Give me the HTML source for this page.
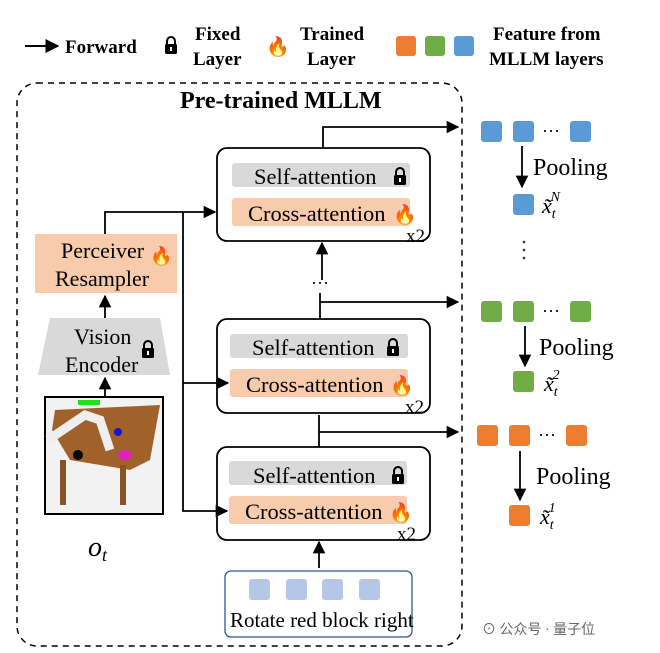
<!DOCTYPE html><html><head><style>body{margin:0;background:#fff}svg{display:block}text{font-family:"Liberation Serif",serif}</style></head><body>
<svg width="660" height="653" viewBox="0 0 660 653" xmlns="http://www.w3.org/2000/svg">
<defs><marker id="a" viewBox="0 0 10 10" refX="9" refY="5" markerWidth="7" markerHeight="7" orient="auto"><path d="M0,0L10,5L0,10z" fill="#000"/></marker>
<g id="lk"><path d="M-4,-2 V-5 A4,4 0 0 1 4,-5 V-2" stroke="#000" stroke-width="2" fill="none"/><rect x="-6" y="-2" width="12" height="10" rx="1.5" fill="#000"/><rect x="-1" y="1" width="2" height="4" fill="#fff"/></g></defs>
<!-- legend -->
<line x1="25" y1="46" x2="58" y2="46" stroke="#000" stroke-width="2" marker-end="url(#a)"/>
<text x="65" y="53" font-size="19" font-weight="bold">Forward</text>
<use href="#lk" x="171" y="46"/>
<text x="195" y="40" font-size="19" font-weight="bold">Fixed</text>
<text x="193" y="65" font-size="19" font-weight="bold">Layer</text>
<text x="266" y="53" font-size="19">🔥</text>
<text x="300" y="40" font-size="19" font-weight="bold">Trained</text>
<text x="307" y="65" font-size="19" font-weight="bold">Layer</text>
<rect x="396" y="36" width="20" height="20" rx="3" fill="#ed7d31"/><rect x="425" y="36" width="20" height="20" rx="3" fill="#70ad47"/><rect x="454" y="36" width="20" height="20" rx="3" fill="#5b9bd5"/>
<text x="493" y="40" font-size="19" font-weight="bold">Feature from</text>
<text x="489" y="65" font-size="19" font-weight="bold">MLLM layers</text>
<!-- dashed box -->
<rect x="17" y="83" width="445" height="563" rx="20" fill="none" stroke="#000" stroke-width="1.5" stroke-dasharray="6,5"/>
<text x="180" y="108" font-size="24" font-weight="bold">Pre-trained MLLM</text>
<!-- blocks -->
<g stroke="#000" stroke-width="1.8" fill="none">
<rect x="217" y="148" width="213" height="93" rx="10"/>
<rect x="217" y="319" width="213" height="94" rx="10"/>
<rect x="217" y="447" width="213" height="93" rx="10"/>
</g>
<g font-size="22.5">
<rect x="232" y="163" width="178" height="24" rx="3" fill="#d9d9d9"/><text x="254" y="184">Self-attention</text><use href="#lk" x="400" y="177"/>
<rect x="232" y="198" width="178" height="28" rx="3" fill="#f8cbad"/><text x="248" y="221">Cross-attention</text><text x="393" y="221" font-size="19">🔥</text><text x="406" y="242" font-size="19">x2</text>
<rect x="230" y="334" width="178" height="24" rx="3" fill="#d9d9d9"/><text x="252" y="355">Self-attention</text><use href="#lk" x="393" y="348"/>
<rect x="230" y="369" width="178" height="28" rx="3" fill="#f8cbad"/><text x="246" y="392">Cross-attention</text><text x="390" y="392" font-size="19">🔥</text><text x="405" y="413" font-size="19">x2</text>
<rect x="229" y="461" width="178" height="24" rx="3" fill="#d9d9d9"/><text x="253" y="483">Self-attention</text><use href="#lk" x="398" y="476"/>
<rect x="229" y="496" width="178" height="28" rx="3" fill="#f8cbad"/><text x="245" y="519">Cross-attention</text><text x="389" y="519" font-size="19">🔥</text><text x="397" y="540" font-size="19">x2</text>
</g>
<!-- perceiver & encoder -->
<rect x="35" y="234" width="142" height="59" fill="#f8cbad"/>
<text x="61" y="258" font-size="22">Perceiver</text><text x="150" y="262" font-size="18">🔥</text><text x="55" y="286" font-size="22">Resampler</text>
<polygon points="50,318 160,318 170,375 38,375" fill="#d9d9d9"/>
<text x="74" y="344" font-size="22">Vision</text><text x="65" y="372" font-size="22">Encoder</text><use href="#lk" x="148" y="350"/>
<!-- image -->
<rect x="45" y="397" width="118" height="117" fill="#f2f2f2" stroke="#000" stroke-width="2"/>
<polygon points="55,410 160,405 150,460 130,470 70,460 52,430" fill="#a0612b"/>
<rect x="60" y="460" width="6" height="45" fill="#8b5323"/><rect x="120" y="465" width="6" height="40" fill="#8b5323"/>
<rect x="78" y="400" width="22" height="5" fill="#22dd22"/>
<path d="M48,440 L85,415 L100,420 L110,450" stroke="#eee" stroke-width="9" fill="none"/>
<circle cx="118" cy="432" r="4" fill="#1515cc"/><ellipse cx="125" cy="455" rx="7" ry="5" fill="#e020c0"/><circle cx="78" cy="455" r="5" fill="#000"/>
<text x="88" y="556" font-size="28" font-style="italic">o<tspan font-size="18" dy="5">t</tspan></text>
<!-- connectors -->
<g stroke="#000" stroke-width="1.8" fill="none">
<path d="M105,234 V212 H215" marker-end="url(#a)"/>
<path d="M183,212 V511 H227" marker-end="url(#a)"/>
<path d="M183,383 H228" marker-end="url(#a)"/>
<path d="M105,318 V296" marker-end="url(#a)"/>
<path d="M105,397 V378" marker-end="url(#a)"/>
<path d="M323,148 V127 H458" marker-end="url(#a)"/>
<path d="M322,280 V243" marker-end="url(#a)"/>
<path d="M320,319 V293"/><path d="M320,302 H458" marker-end="url(#a)"/>
<path d="M319,447 V415"/><path d="M319,432 H458" marker-end="url(#a)"/>
<path d="M319,568 V542" marker-end="url(#a)"/>
</g>
<text x="311" y="289" font-size="18">···</text>
<!-- text input -->
<rect x="225" y="571" width="187" height="66" rx="6" fill="#fff" stroke="#2e5597" stroke-width="1.3"/>
<g fill="#b4c7e7"><rect x="249" y="579" width="21" height="21" rx="3"/><rect x="286" y="579" width="21" height="21" rx="3"/><rect x="322" y="579" width="21" height="21" rx="3"/><rect x="359" y="579" width="21" height="21" rx="3"/></g>
<text x="230" y="627" font-size="21">Rotate red block right</text>
<!-- right features -->
<g fill="#5b9bd5"><rect x="481" y="121" width="21" height="21" rx="3"/><rect x="513" y="121" width="21" height="21" rx="3"/><rect x="570" y="121" width="21" height="21" rx="3"/><rect x="513" y="194" width="21" height="21" rx="3"/></g>
<g fill="#70ad47"><rect x="481" y="301" width="21" height="21" rx="3"/><rect x="513" y="301" width="21" height="21" rx="3"/><rect x="570" y="301" width="21" height="21" rx="3"/><rect x="513" y="371" width="21" height="21" rx="3"/></g>
<g fill="#ed7d31"><rect x="477" y="425" width="21" height="21" rx="3"/><rect x="509" y="425" width="21" height="21" rx="3"/><rect x="566" y="425" width="21" height="21" rx="3"/><rect x="509" y="505" width="21" height="21" rx="3"/></g>
<g font-size="18"><text x="542" y="137">···</text><text x="542" y="317">···</text><text x="538" y="441">···</text></g>
<g stroke="#000" stroke-width="1.8"><line x1="522" y1="146" x2="522" y2="187" marker-end="url(#a)"/><line x1="525" y1="326" x2="525" y2="366" marker-end="url(#a)"/><line x1="520" y1="451" x2="520" y2="500" marker-end="url(#a)"/></g>
<g font-size="24"><text x="533" y="175">Pooling</text><text x="539" y="355">Pooling</text><text x="536" y="484">Pooling</text></g>
<g font-size="22" font-style="italic"><text x="542" y="213">x̃<tspan font-size="14" dy="5">t</tspan><tspan font-size="14" dx="-5" dy="-17">N</tspan></text>
<text x="544" y="391">x̃<tspan font-size="14" dy="5">t</tspan><tspan font-size="14" dx="-5" dy="-17">2</tspan></text>
<text x="540" y="524">x̃<tspan font-size="14" dy="5">t</tspan><tspan font-size="14" dx="-5" dy="-17">1</tspan></text></g>
<g fill="#333"><circle cx="524" cy="242" r="1.3"/><circle cx="524" cy="250" r="1.3"/><circle cx="524" cy="258" r="1.3"/></g>
<text x="482" y="634" font-size="14" fill="#666" font-family="Liberation Sans,Noto Sans CJK SC,sans-serif">⊙ 公众号 · 量子位</text>
</svg></body></html>
